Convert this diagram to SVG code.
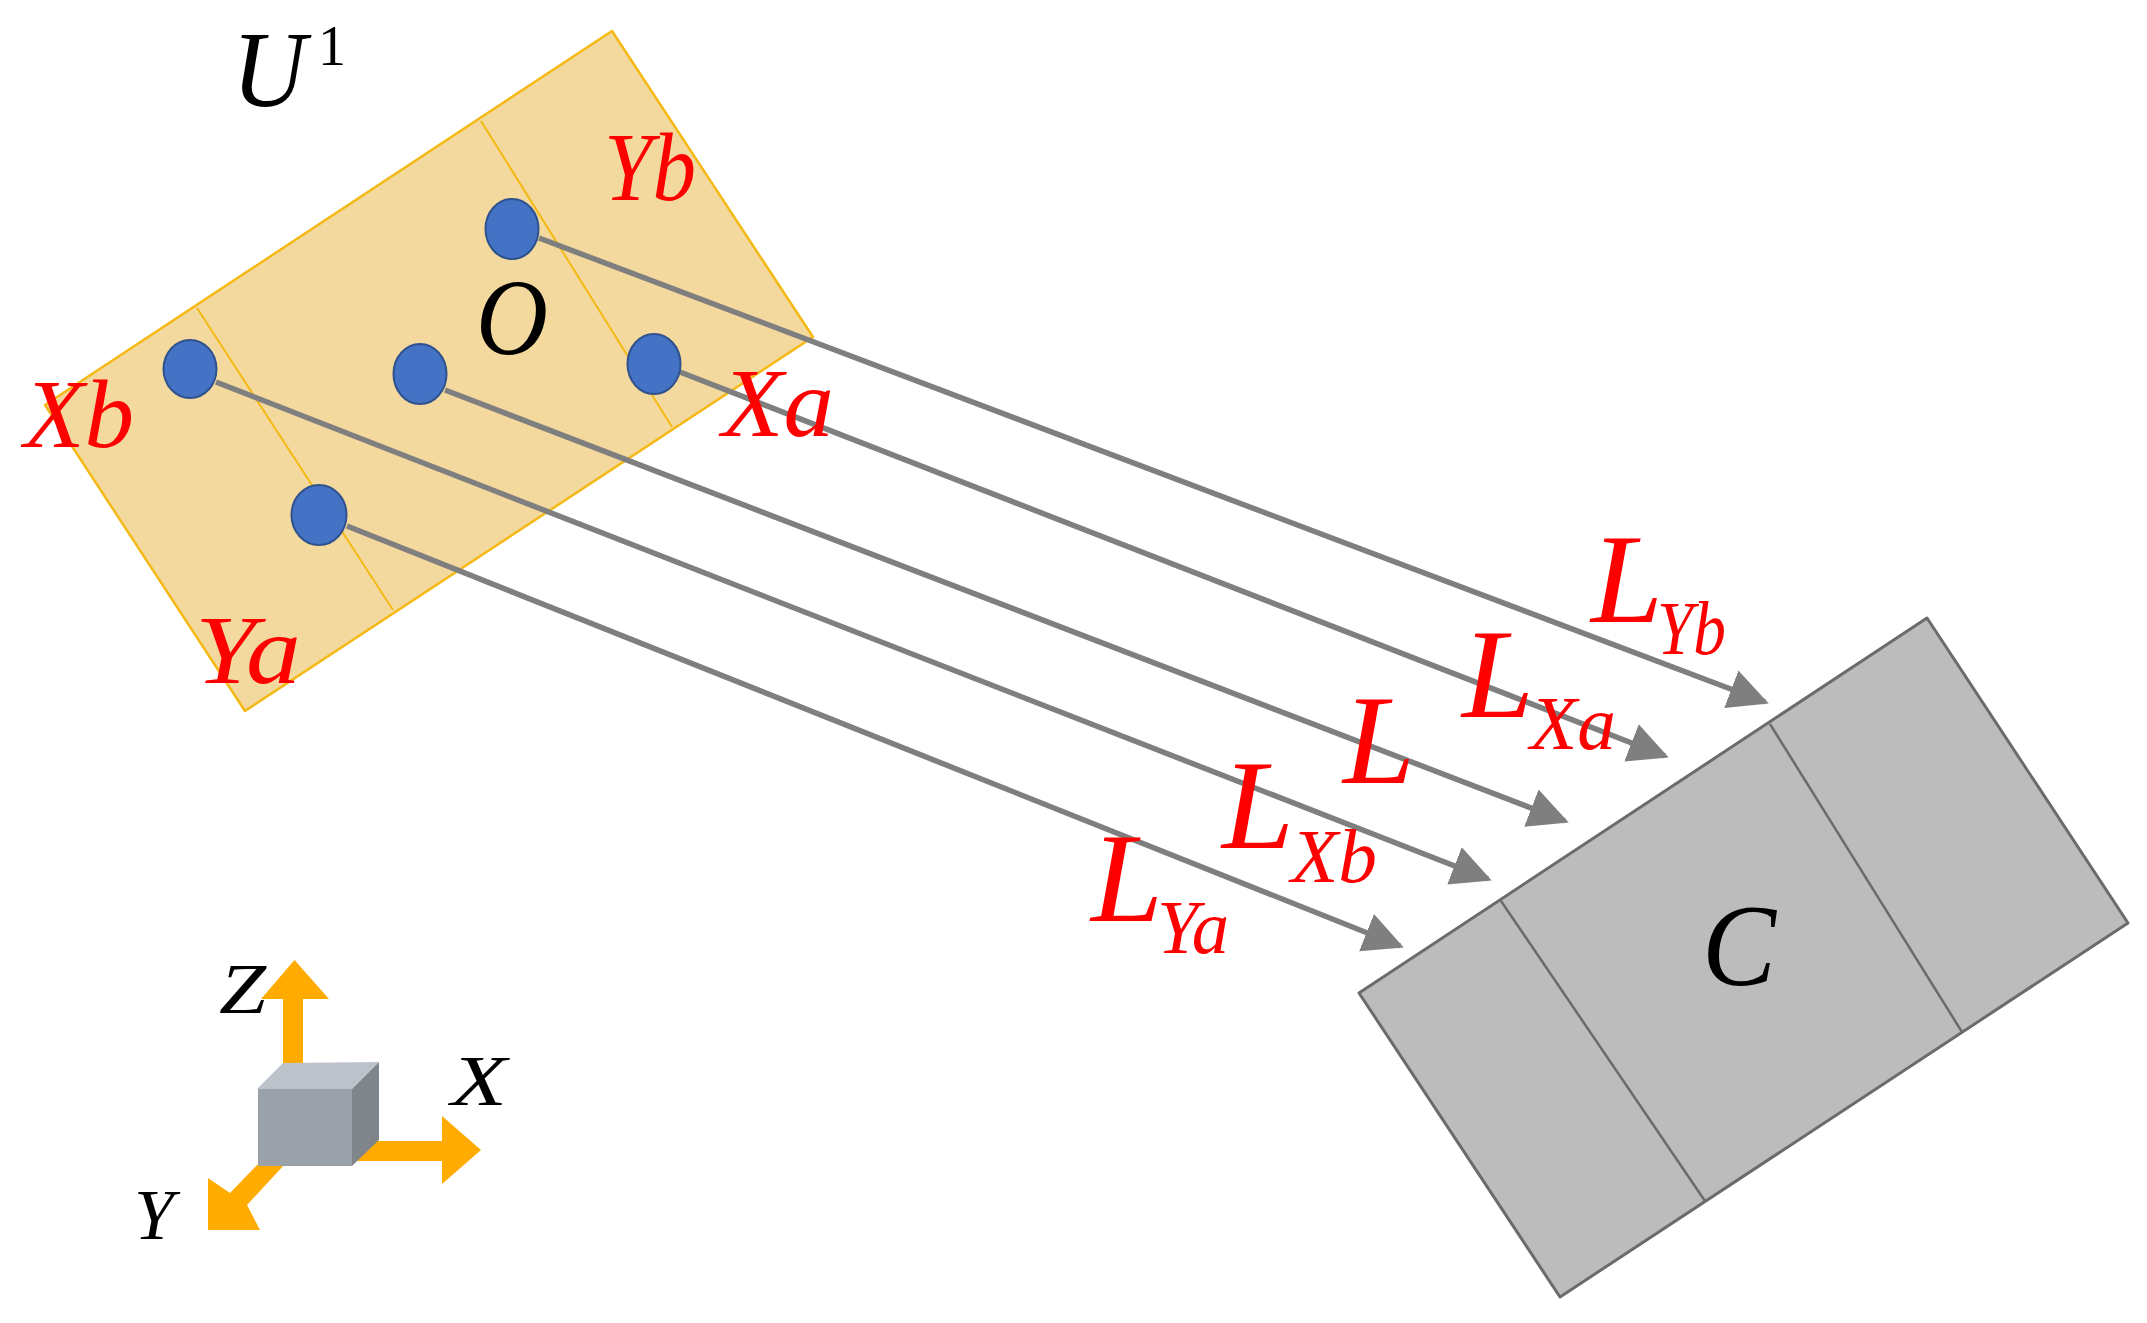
<svg xmlns="http://www.w3.org/2000/svg" width="2147" height="1323" viewBox="0 0 2147 1323">
<style>
.t{font-family:"Liberation Serif","Times New Roman",serif;font-style:italic}
.r{fill:#ff0000}.k{fill:#000}
.big{font-size:128px}.sub{font-size:76px}.lab{font-size:98px}.ax{font-size:72px}
.pl{fill:#f3d99d;stroke:#f5b915;stroke-width:2.5;stroke-linejoin:round}
.pd{fill:none;stroke:#f5b915;stroke-width:2}
.gr{fill:#bcbcbc;stroke:#6b6b6b;stroke-width:3;stroke-linejoin:round}
.gd{fill:none;stroke:#6b6b6b;stroke-width:2.5}
.dot{fill:#4472c4;stroke:#2f528f;stroke-width:2}
.ln{stroke:#7f7f7f;stroke-width:5.5;fill:none;marker-end:url(#ah)}
.o{fill:#ffab00}
</style>
<defs>
<marker id="ah" markerUnits="userSpaceOnUse" markerWidth="42" markerHeight="42" refX="36" refY="21" orient="auto" viewBox="0 0 42 42"><path d="M0,1 L40,21 L0,41 Z" fill="#7f7f7f"/></marker>
</defs>
<g id="plate-U">
<polygon class="pl" points="612,31 813,337 245,711 45,405"/>
<line class="pd" x1="481" y1="121" x2="672" y2="427"/>
<line class="pd" x1="197" y1="308" x2="393" y2="610"/>
</g>
<g id="plate-C">
<polygon class="gr" points="1927,618 2128,923 1560,1297 1359,993"/>
<line class="gd" x1="1770" y1="724" x2="1962" y2="1032"/>
<line class="gd" x1="1501" y1="901" x2="1705" y2="1201"/>
<text class="t k" x="1702" y="985" font-size="116" textLength="74" lengthAdjust="spacingAndGlyphs">C</text>
</g>
<g id="connectors">
<line class="ln" x1="539" y1="238" x2="1765" y2="702"/>
<line class="ln" x1="680" y1="372" x2="1665" y2="756"/>
<line class="ln" x1="445" y1="390" x2="1565" y2="821"/>
<line class="ln" x1="216" y1="382" x2="1488" y2="879"/>
<line class="ln" x1="347" y1="526" x2="1400" y2="946"/>
</g>
<g id="point-Yb"><ellipse class="dot" cx="512" cy="229" rx="26.5" ry="30"/></g>
<g id="point-Xa"><ellipse class="dot" cx="654" cy="364" rx="26.5" ry="30"/></g>
<g id="point-O"><ellipse class="dot" cx="420" cy="374" rx="26.5" ry="30"/></g>
<g id="point-Xb"><ellipse class="dot" cx="190" cy="369" rx="26.5" ry="29"/></g>
<g id="point-Ya"><ellipse class="dot" cx="319" cy="515" rx="27.5" ry="30"/></g>
<g id="labels">
<text class="t k" x="232" y="106" font-size="108" textLength="74" lengthAdjust="spacingAndGlyphs">U</text>
<text font-family="Liberation Serif, serif" x="318" y="65" font-size="56" fill="#000">1</text>
<text class="t k" x="476" y="354" font-size="108" textLength="72" lengthAdjust="spacingAndGlyphs">O</text>
<text class="t r lab" x="604" y="200" textLength="92" lengthAdjust="spacingAndGlyphs">Yb</text>
<text class="t r lab" x="24" y="447" textLength="110" lengthAdjust="spacingAndGlyphs">Xb</text>
<text class="t r lab" x="722" y="436" textLength="112" lengthAdjust="spacingAndGlyphs">Xa</text>
<text class="t r lab" x="195" y="683" textLength="106" lengthAdjust="spacingAndGlyphs">Ya</text>
<text class="t r big" x="1591" y="622" textLength="72" lengthAdjust="spacingAndGlyphs">L</text>
<text class="t r sub" x="1657" y="654" textLength="69" lengthAdjust="spacingAndGlyphs">Yb</text>
<text class="t r big" x="1462" y="717" textLength="72" lengthAdjust="spacingAndGlyphs">L</text>
<text class="t r sub" x="1530" y="749" textLength="86" lengthAdjust="spacingAndGlyphs">Xa</text>
<text class="t r big" x="1343" y="783" textLength="72" lengthAdjust="spacingAndGlyphs">L</text>
<text class="t r big" x="1222" y="848" textLength="72" lengthAdjust="spacingAndGlyphs">L</text>
<text class="t r sub" x="1291" y="882" textLength="86" lengthAdjust="spacingAndGlyphs">Xb</text>
<text class="t r big" x="1091" y="921" textLength="72" lengthAdjust="spacingAndGlyphs">L</text>
<text class="t r sub" x="1157" y="953" textLength="72" lengthAdjust="spacingAndGlyphs">Ya</text>
</g>
<g id="axes">
<polygon class="o" points="294.5,960 329,999 303,999 303,1068 283,1068 283,999 261,999"/>
<polygon class="o" points="345,1141 442,1141 442,1116 481,1150 442,1184 442,1161 345,1161"/>
<polygon class="o" points="258,1164 285,1164 247,1205 260,1230 208,1230 208,1178 230,1193"/>
<polygon fill="#bcc3ca" points="257,1089 283,1063 379,1062 352,1089"/>
<polygon fill="#7f8589" points="352,1089 379,1062 379,1140 352,1166"/>
<rect x="258" y="1089" width="94" height="77" fill="#9aa1a8"/>
<text class="t k ax" x="219" y="1013" textLength="47" lengthAdjust="spacingAndGlyphs">Z</text>
<text class="t k ax" x="451" y="1105" textLength="56" lengthAdjust="spacingAndGlyphs">X</text>
<text class="t k ax" x="134" y="1239" textLength="40" lengthAdjust="spacingAndGlyphs">Y</text>
</g>
</svg>
